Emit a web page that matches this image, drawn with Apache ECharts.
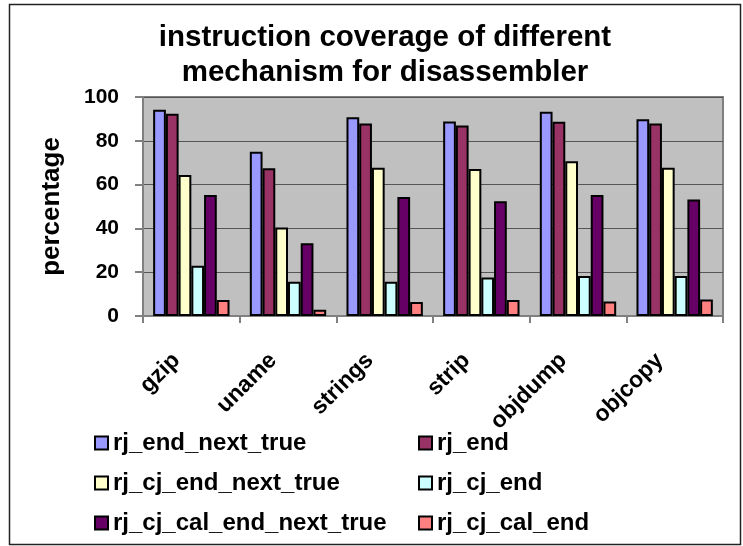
<!DOCTYPE html>
<html><head><meta charset="utf-8">
<script src="https://cdn.jsdelivr.net/npm/echarts@6/dist/echarts.min.js"></script>
<style>html,body{margin:0;padding:0;background:#fff}#c{width:743px;height:546px}</style>
</head><body><div id="c"></div>
<script>
const categories = ['gzip', 'uname', 'strings', 'strip', 'objdump', 'objcopy'];
const seriesNames = ['rj_end_next_true', 'rj_end', 'rj_cj_end_next_true', 'rj_cj_end', 'rj_cj_cal_end_next_true', 'rj_cj_cal_end'];
const rj_end_next_true = [94.2, 75.0, 90.7, 88.8, 93.3, 89.8];
const rj_end = [92.4, 67.5, 87.9, 87.0, 88.7, 87.9];
const rj_cj_end_next_true = [64.4, 40.4, 67.7, 67.1, 70.7, 67.7];
const rj_cj_end = [22.9, 15.6, 15.6, 17.6, 18.3, 18.3];
const rj_cj_cal_end_next_true = [55.2, 33.2, 54.3, 52.4, 55.2, 53.2];
const rj_cj_cal_end = [7.3, 2.8, 6.4, 7.3, 6.6, 7.5];
const yTicks = [0, 20, 40, 60, 80, 100];

const values = [rj_end_next_true, rj_end, rj_cj_end_next_true, rj_cj_end, rj_cj_cal_end_next_true, rj_cj_cal_end];
const colors = ['#9999FF', '#993366', '#FFFFCC', '#CCFFFF', '#660066', '#FF8080'];
const FONT = 'Liberation Sans';

const chart = echarts.init(document.getElementById('c'), null, {renderer: 'canvas'});
const legendCommon = {
  orient: 'vertical', icon: 'rect', itemWidth: 13, itemHeight: 13, itemGap: 16,
  textStyle: {fontFamily: FONT, fontWeight: 'bold', fontSize: 24, color: '#000'},
  selectedMode: false
};
chart.setOption({
  animation: false,
  backgroundColor: '#fff',
  title: {
    text: 'instruction coverage of different\nmechanism for disassembler',
    left: 380, top: 15, textAlign: 'center',
    textStyle: {fontFamily: FONT, fontWeight: 'bold', fontSize: 29.5, lineHeight: 35, color: '#000'}
  },
  graphic: [{
    type: 'rect', shape: {x: 9.5, y: 4.5, width: 731, height: 540},
    style: {fill: 'none', stroke: '#222', lineWidth: 1.5}, silent: true, z: -1
  }],
  legend: [
    Object.assign({left: 89, top: 426, data: [seriesNames[0], seriesNames[2], seriesNames[4]]}, legendCommon),
    Object.assign({left: 413, top: 426, data: [seriesNames[1], seriesNames[3], seriesNames[5]]}, legendCommon)
  ],
  grid: {left: 143, right: 20, top: 97, bottom: 230, show: true, backgroundColor: '#C0C0C0', borderColor: '#808080', borderWidth: 2},
  xAxis: {
    type: 'category', data: categories,
    axisLine: {lineStyle: {color: '#808080', width: 2}},
    axisTick: {show: true, length: 7, lineStyle: {color: '#808080', width: 2}},
    axisLabel: {rotate: 45, margin: 26, padding: [0, 21, 0, 0], fontFamily: FONT, fontWeight: 'bold', fontSize: 23, color: '#000'}
  },
  yAxis: {
    type: 'value', min: 0, max: 100, interval: 20,
    name: 'percentage', nameLocation: 'middle', nameRotate: 90, nameGap: 78,
    nameTextStyle: {fontFamily: FONT, fontWeight: 'bold', fontSize: 26, color: '#000'},
    axisLine: {show: true, lineStyle: {color: '#808080', width: 2}},
    axisTick: {show: true, length: 8, lineStyle: {color: '#808080', width: 2}},
    splitLine: {lineStyle: {color: '#555', width: 1}},
    axisLabel: {margin: 24, fontFamily: FONT, fontWeight: 'bold', fontSize: 21, color: '#000',
      formatter: v => yTicks.includes(v) ? String(v) : ''}
  },
  series: seriesNames.map((n, i) => ({
    name: n, type: 'bar', data: values[i],
    barGap: '0%', barCategoryGap: '21%',
    itemStyle: {color: colors[i], borderColor: '#000', borderWidth: 2}
  }))
});
</script></body></html>
